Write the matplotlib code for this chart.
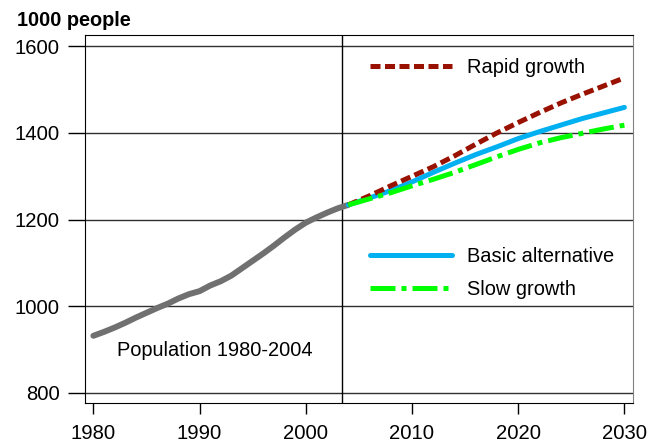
import matplotlib
matplotlib.use('Agg')
import matplotlib.pyplot as plt

plt.rcParams['font.family'] = ['Liberation Sans', 'DejaVu Sans']

# historical population, 1000 people
hist_years = list(range(1980, 2005))
hist_pop = [932, 941, 951, 962, 974, 985, 996, 1006, 1018, 1028,
            1035, 1048, 1058, 1071, 1088, 1105, 1122, 1140, 1159, 1177,
            1193, 1205, 1216, 1226, 1234]

# projections
proj_years = [2004, 2006, 2008, 2010, 2012, 2014, 2016, 2018, 2020, 2022, 2024, 2026, 2028, 2030]
basic = [1234, 1250, 1267, 1287, 1309, 1330, 1350, 1368, 1387, 1403, 1418, 1433, 1446, 1459]
rapid = [1234, 1255, 1278, 1300, 1322, 1347, 1374, 1400, 1424, 1447, 1469, 1489, 1508, 1527]
slow = [1234, 1248, 1262, 1278, 1293, 1309, 1327, 1345, 1362, 1377, 1389, 1399, 1409, 1418]

x_ticks = [1980, 1990, 2000, 2010, 2020, 2030]
y_ticks = [800, 1000, 1200, 1400, 1600]
split_year = 2003.4

fig = plt.figure(figsize=(6.56, 4.44), dpi=100)
ax = fig.add_axes([85 / 656, 41 / 444, 548 / 656, 368 / 444])

for yt in y_ticks:
    ax.axhline(yt, color='#303030', lw=1.0, zorder=1)
ax.axvline(split_year, color='black', lw=1.0, zorder=1)

ax.plot(hist_years, hist_pop, color='#707070', lw=4.3, solid_capstyle='round', zorder=3)
l_basic, = ax.plot(proj_years, basic, color='#00B0F0', lw=3.6, solid_capstyle='round',
                   label='Basic alternative', zorder=4)
l_rapid, = ax.plot(proj_years, rapid, color='#991100', lw=3.6, linestyle=(0, (2.0, 0.9)),
                   label='Rapid growth', zorder=5)
l_slow, = ax.plot(proj_years, slow, color='#00FF00', lw=3.6, linestyle=(0, (5, 1.2, 1, 1.2)),
                  label='Slow growth', zorder=6)

ax.text(1982.2, 899, 'Population 1980-2004', fontsize=14.4, va='center', ha='left')

leg1 = ax.legend(handles=[l_rapid], loc='center left', bbox_to_anchor=(0.52, 0.913),
                 frameon=False, fontsize=14.4, handlelength=4.1, handletextpad=0.75,
                 borderpad=0, borderaxespad=0)
ax.add_artist(leg1)
ax.legend(handles=[l_basic, l_slow], loc='center left', bbox_to_anchor=(0.52, 0.352),
          frameon=False, fontsize=14.4, handlelength=4.1, handletextpad=0.75,
          borderpad=0, borderaxespad=0, labelspacing=0.7)

ax.set_xlim(1979.21, 2030.81)
ax.set_ylim(776.9, 1626)
ax.set_xticks(x_ticks)
ax.set_yticks(y_ticks)
ax.tick_params(axis='y', direction='out', length=12.2, width=1, pad=5.8, labelsize=14.6)
ax.tick_params(axis='x', direction='out', length=7.9, width=1, pad=7.5, labelsize=14.6)

for s in ['left', 'top', 'bottom']:
    ax.spines[s].set_color('black')
ax.spines['right'].set_color('#808080')

fig.text(17 / 656, 1 - 26 / 444, '1000 people', fontsize=14.3, fontweight='bold', va='baseline')

fig.savefig('out.png', dpi=100)
